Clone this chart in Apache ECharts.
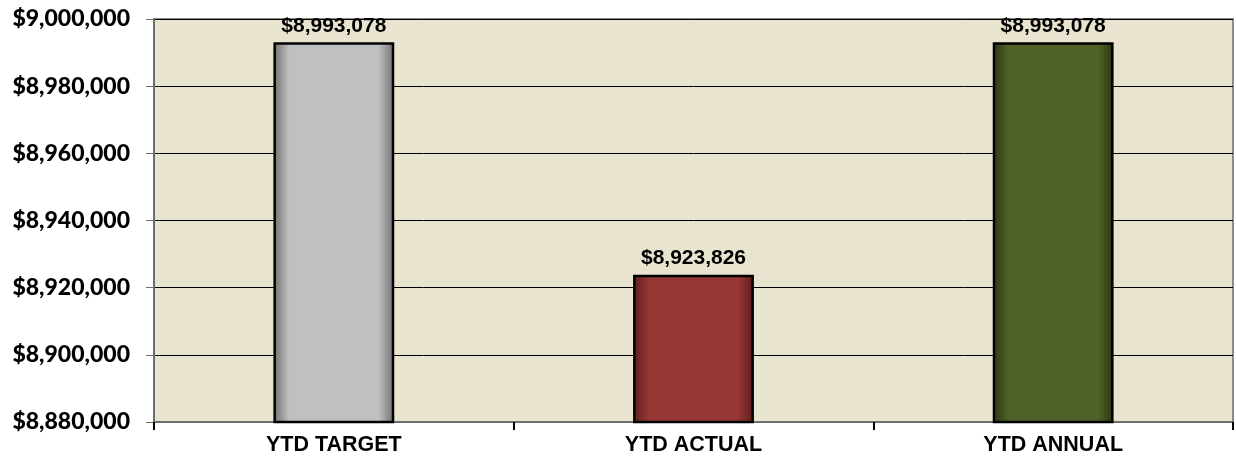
<!DOCTYPE html>
<html><head><meta charset="utf-8">
<script src="https://cdn.jsdelivr.net/npm/echarts@6/dist/echarts.min.js"></script>
<style>html,body{margin:0;padding:0;background:#fff}#c{width:1236px;height:465px}</style>
</head><body><div id="c"></div>
<script>
const categories = ['YTD TARGET', 'YTD ACTUAL', 'YTD ANNUAL'];
const values = [8993078, 8923826, 8993078];
const barColors = ['#C0C0C0', '#953735', '#4F6228'];
const edgeColors = ['#6e6e6e', '#5a1d1c', '#2a3513'];
const yMin = 8880000, yMax = 9000000, yStep = 20000;

function money(v){ return '$' + Math.round(v).toLocaleString('en-US'); }
function grad(c, e){
  return new echarts.graphic.LinearGradient(0,0,1,0,[
    {offset:0,color:e},{offset:0.13,color:c},{offset:0.87,color:c},{offset:1,color:e}]);
}
const chart = echarts.init(document.getElementById('c'));
chart.setOption({
  animation:false,
  grid:{left:154,right:3,top:19,bottom:43,show:true,backgroundColor:'#E9E4CF',borderColor:'#8c8c8c',borderWidth:2},
  xAxis:{type:'category',data:categories,
    axisLine:{lineStyle:{color:'#6e6e6e',width:2}},
    axisTick:{show:true,length:8,lineStyle:{color:'#000',width:2}},
    axisLabel:{color:'#000',fontFamily:'Liberation Sans, Arial',fontWeight:'bold',fontSize:21.5,margin:12}},
  yAxis:{type:'value',min:yMin,max:yMax,interval:yStep,
    axisLine:{show:true,lineStyle:{color:'#6e6e6e',width:2}},
    axisTick:{show:true,length:8,lineStyle:{color:'#6e6e6e',width:1}},
    splitLine:{lineStyle:{color:'#000',width:1}},
    axisLabel:{color:'#000',fontFamily:'Lato, Open Sans',fontWeight:900,fontSize:23,margin:24,formatter:money}},
  series:[{type:'bar',barWidth:'33.6%',
    data:values.map((v,i)=>({value:v,itemStyle:{color:grad(barColors[i],edgeColors[i]),borderColor:'#000',borderWidth:2.5}})),
    label:{show:true,position:'top',distance:6,color:'#000',fontFamily:'Liberation Sans, Arial',fontWeight:'bold',fontSize:21,formatter:p=>money(p.value)}
  }]
});
</script></body></html>
